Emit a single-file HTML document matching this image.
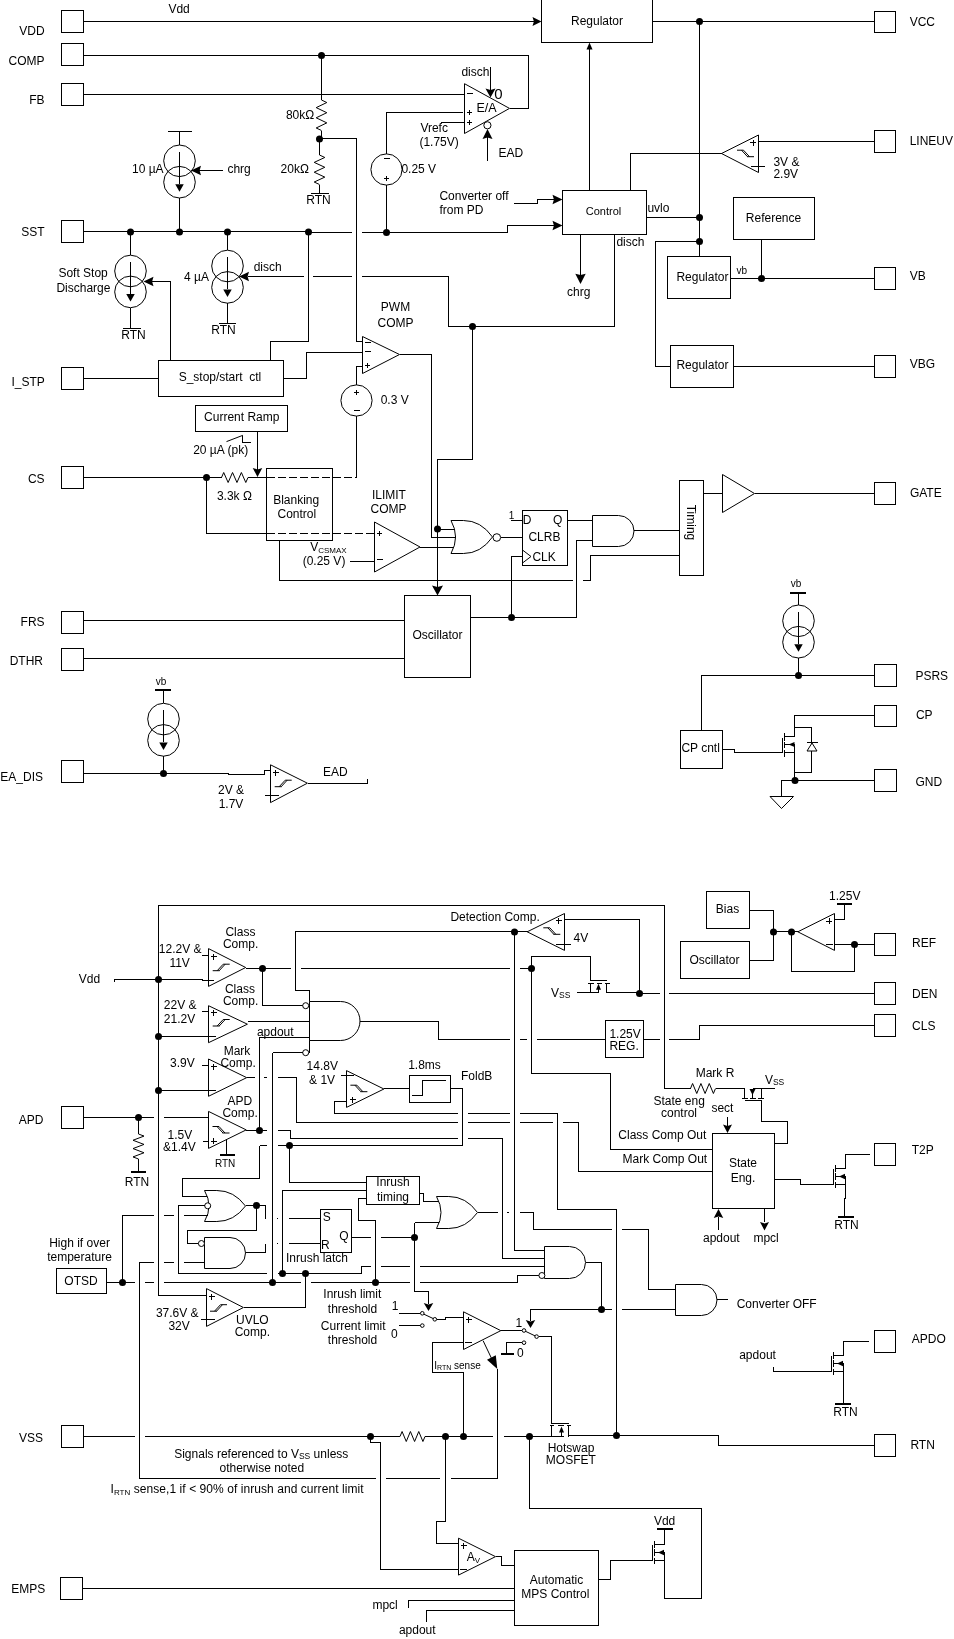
<!DOCTYPE html>
<html><head><meta charset="utf-8"><title>Block diagram</title>
<style>
html,body{margin:0;padding:0;background:#fff}
svg{display:block;will-change:transform}
text{font-family:"Liberation Sans",sans-serif;font-size:12px;fill:#000}
.c{fill:none;stroke:#000;stroke-width:1;shape-rendering:crispEdges}
.a{stroke:#000;stroke-width:1}
polyline.a{fill:none}
</style></head><body>
<svg width="954" height="1639" viewBox="0 0 954 1639">
<rect x="0" y="0" width="954" height="1639" fill="#fff"/>
<rect class="c" x="61.5" y="10.5" width="22.0" height="22.0" fill="none"/>
<rect class="c" x="61.5" y="43.5" width="22.0" height="22.0" fill="none"/>
<rect class="c" x="61.5" y="83.5" width="22.0" height="22.0" fill="none"/>
<rect class="c" x="61.5" y="220.5" width="22.0" height="22.0" fill="none"/>
<rect class="c" x="61.5" y="367.5" width="22.0" height="22.0" fill="none"/>
<rect class="c" x="61.5" y="466.5" width="22.0" height="22.0" fill="none"/>
<rect class="c" x="61.5" y="611.5" width="22.0" height="22.0" fill="none"/>
<rect class="c" x="61.5" y="648.5" width="22.0" height="22.0" fill="none"/>
<rect class="c" x="61.5" y="760.5" width="22.0" height="22.0" fill="none"/>
<rect class="c" x="61.5" y="1106.5" width="22.0" height="22.0" fill="none"/>
<rect class="c" x="61.5" y="1425.5" width="22.0" height="22.0" fill="none"/>
<rect class="c" x="60.5" y="1577.5" width="22.0" height="22.0" fill="none"/>
<rect class="c" x="874.5" y="11.5" width="21.0" height="21.0" fill="none"/>
<rect class="c" x="874.5" y="130.5" width="21.0" height="22.0" fill="none"/>
<rect class="c" x="874.5" y="267.5" width="21.0" height="22.0" fill="none"/>
<rect class="c" x="874.5" y="355.5" width="21.0" height="22.0" fill="none"/>
<rect class="c" x="874.5" y="482.5" width="21.0" height="22.0" fill="none"/>
<rect class="c" x="874.5" y="933.5" width="21.0" height="22.0" fill="none"/>
<rect class="c" x="874.5" y="982.5" width="21.0" height="22.0" fill="none"/>
<rect class="c" x="874.5" y="1014.5" width="21.0" height="22.0" fill="none"/>
<rect class="c" x="874.5" y="1143.5" width="21.0" height="22.0" fill="none"/>
<rect class="c" x="874.5" y="1330.5" width="21.0" height="22.0" fill="none"/>
<rect class="c" x="874.5" y="1434.5" width="21.0" height="22.0" fill="none"/>
<rect class="c" x="874.5" y="664.5" width="22.0" height="22.0" fill="none"/>
<rect class="c" x="874.5" y="705.5" width="22.0" height="21.0" fill="none"/>
<rect class="c" x="874.5" y="769.5" width="22.0" height="22.0" fill="none"/>
<text x="44.6" y="34.9" text-anchor="end">VDD</text>
<text x="44.6" y="64.6" text-anchor="end">COMP</text>
<text x="44.6" y="103.7" text-anchor="end">FB</text>
<text x="44.6" y="235.5" text-anchor="end">SST</text>
<text x="44.8" y="385.6" text-anchor="end">I_STP</text>
<text x="44.6" y="483.2" text-anchor="end">CS</text>
<text x="44.6" y="625.5" text-anchor="end">FRS</text>
<text x="43" y="664.5" text-anchor="end">DTHR</text>
<text x="43" y="780.5" text-anchor="end">EA_DIS</text>
<text x="43.5" y="1124.0" text-anchor="end">APD</text>
<text x="43" y="1441.5" text-anchor="end">VSS</text>
<text x="45.3" y="1593.2" text-anchor="end">EMPS</text>
<text x="909.7" y="26.4">VCC</text>
<text x="909.7" y="144.7">LINEUV</text>
<text x="909.7" y="279.7">VB</text>
<text x="909.7" y="367.8">VBG</text>
<text x="909.9" y="497">GATE</text>
<text x="915.4" y="680">PSRS</text>
<text x="915.9" y="719">CP</text>
<text x="915.4" y="785.5">GND</text>
<text x="912.1" y="947.2">REF</text>
<text x="912.1" y="998.2">DEN</text>
<text x="912.1" y="1030.2">CLS</text>
<text x="911.7" y="1154.3">T2P</text>
<text x="911.8" y="1343.3">APDO</text>
<text x="910.4" y="1449.4">RTN</text>
<polyline class="c" points="83.5,21.5 535,21.5"/>
<polygon points="541.5,21.5 532.5,17.0 533.9,21.5 532.5,26.0" fill="#000" stroke="none"/>
<text x="168.4" y="13">Vdd</text>
<rect class="c" x="541.5" y="-0.5" width="111.0" height="43.0" fill="none"/>
<text x="597" y="25.3" text-anchor="middle">Regulator</text>
<polyline class="c" points="652.5,21.5 874.5,21.5"/>
<circle cx="699.5" cy="21.5" r="3.5" fill="#000"/>
<polyline class="c" points="699.5,21.5 699.5,256.5"/>
<circle cx="699.5" cy="217.5" r="3.5" fill="#000"/>
<circle cx="699.5" cy="241.5" r="3.5" fill="#000"/>
<polyline class="c" points="83.5,55.5 528.5,55.5 528.5,108.5 509.5,108.5"/>
<circle cx="321.5" cy="55.5" r="3.5" fill="#000"/>
<polyline class="c" points="83.5,94.5 464.5,94.5"/>
<polyline class="c" points="321.5,55.5 321.5,100"/>
<polyline class="a" points="321.5,100 326.8,102.54166666666667 316.2,107.625 326.8,112.70833333333333 316.2,117.79166666666666 326.8,122.875 316.2,127.95833333333333 321.5,130.5"/>
<polyline class="c" points="321.5,130.5 321.5,138.5"/>
<circle cx="319.5" cy="139" r="3.5" fill="#000"/>
<polyline class="c" points="319.5,138.5 356.5,138.5 356.5,341.5 362.5,341.5"/>
<polyline class="c" points="319.5,138.5 319.5,155"/>
<polyline class="a" points="319.5,155 324.8,157.45833333333334 314.2,162.375 324.8,167.29166666666666 314.2,172.20833333333334 324.8,177.125 314.2,182.04166666666666 319.5,184.5"/>
<polyline class="c" points="319.5,184.5 319.5,193.5"/>
<polyline class="c" points="311,193.5 329,193.5"/>
<text x="285.9" y="119">80kΩ</text>
<text x="280.6" y="172.9">20kΩ</text>
<text x="306.2" y="204.4">RTN</text>
<polyline class="c" points="168,131.5 192,131.5"/>
<polyline class="c" points="179.5,131.5 179.5,145"/>
<circle class="a" cx="179.5" cy="160.8" r="15.8" fill="none"/>
<circle class="a" cx="179.5" cy="182.2" r="15.8" fill="none"/>
<polyline class="c" points="179.5,151.5 179.5,184.2"/>
<polygon points="179.5,191.79999999999998 175.25,184.2 179.5,184.2 183.75,184.2" fill="#000" stroke="none"/>
<polyline class="c" points="179.5,198 179.5,232.5"/>
<polyline class="c" points="222.5,170.5 199,170.5"/>
<polygon points="191,170.5 201,165.75 199.6,170.5 201,175.25" fill="#000" stroke="none"/>
<text x="132.0" y="173">10 µA</text>
<text x="227.4" y="173">chrg</text>
<polyline class="c" points="83.5,231.5 308.5,231.5"/>
<polyline class="c" points="308.5,232.5 351.5,232.5"/>
<polyline class="c" points="361.5,232.5 507.5,232.5 507.5,225.5 555,225.5"/>
<polygon points="562.5,225.5 552.5,220.75 553.9,225.5 552.5,230.25" fill="#000" stroke="none"/>
<circle cx="130.5" cy="232" r="3.5" fill="#000"/>
<circle cx="179.5" cy="232" r="3.5" fill="#000"/>
<circle cx="227.5" cy="232" r="3.5" fill="#000"/>
<circle cx="308.5" cy="232" r="3.5" fill="#000"/>
<circle cx="386.5" cy="232.5" r="3.5" fill="#000"/>
<polyline class="c" points="130.5,232.5 130.5,255.2"/>
<circle class="a" cx="130.5" cy="271" r="15.8" fill="none"/>
<circle class="a" cx="130.5" cy="291.9" r="15.8" fill="none"/>
<polyline class="c" points="130.5,261.7 130.5,293.9"/>
<polygon points="130.5,301.5 126.25,293.9 130.5,293.9 134.75,293.9" fill="#000" stroke="none"/>
<polyline class="c" points="130.5,307.7 130.5,328.5"/>
<polyline class="c" points="122.5,328.5 141,328.5"/>
<text x="121.2" y="339.4">RTN</text>
<text x="58.4" y="276.5">Soft Stop</text>
<text x="56.4" y="291.6">Discharge</text>
<polyline class="c" points="170.5,360.5 170.5,281.5 152,281.5"/>
<polygon points="143.5,281.5 153.5,276.75 152.1,281.5 153.5,286.25" fill="#000" stroke="none"/>
<polyline class="c" points="227.5,232.5 227.5,250.2"/>
<circle class="a" cx="227.5" cy="266" r="15.8" fill="none"/>
<circle class="a" cx="227.5" cy="287.4" r="15.8" fill="none"/>
<polyline class="c" points="227.5,256.7 227.5,289.4"/>
<polygon points="227.5,297.0 223.25,289.4 227.5,289.4 231.75,289.4" fill="#000" stroke="none"/>
<polyline class="c" points="227.5,303.2 227.5,323.5"/>
<polyline class="c" points="218.5,323.5 235.5,323.5"/>
<text x="211.2" y="334.4">RTN</text>
<text x="184.1" y="281">4 µA</text>
<text x="253.7" y="270.5">disch</text>
<polygon points="239,276.5 249,271.75 247.6,276.5 249,281.25" fill="#000" stroke="none"/>
<polyline class="c" points="248,276.5 303.5,276.5"/>
<polyline class="c" points="313,276.5 351.5,276.5"/>
<polyline class="c" points="361.5,276.5 448.5,276.5 448.5,326.5 614.5,326.5 614.5,234.5"/>
<circle cx="472.5" cy="326.5" r="3.5" fill="#000"/>
<polyline class="c" points="472.5,326.5 472.5,459.5 437.5,459.5 437.5,588"/>
<polygon points="437.5,595.5 432.0,585.5 437.5,586.9 443.0,585.5" fill="#000" stroke="none"/>
<circle cx="437.5" cy="529" r="3.5" fill="#000"/>
<circle class="a" cx="386.5" cy="169.5" r="15.6" fill="none"/>
<polyline class="c" points="386.5,154 386.5,112.5 463,112.5"/>
<polyline class="c" points="386.5,185 386.5,232.5"/>
<polyline class="c" points="383.5,158.5 389.5,158.5"/>
<polyline class="c" points="384.0,178.5 389.0,178.5"/>
<polyline class="c" points="386.5,175.5 386.5,180.5"/>
<text x="401.4" y="173">0.25 V</text>
<polyline class="c" points="440.5,122.5 464.5,122.5"/>
<text x="420.4" y="131.8">Vrefc</text>
<text x="419.4" y="146">(1.75V)</text>
<polygon class="a" points="464.5,83.7 464.5,133.5 509.5,108.4" fill="none"/>
<polyline class="c" points="466.5,93.5 472.5,93.5"/>
<polyline class="c" points="467.0,112.5 472.0,112.5"/>
<polyline class="c" points="469.5,110.0 469.5,115.0"/>
<polyline class="c" points="467.0,122.5 472.0,122.5"/>
<polyline class="c" points="469.5,119.5 469.5,124.5"/>
<text x="461.4" y="75.6">disch</text>
<polyline class="c" points="490.5,66.5 490.5,91"/>
<polygon points="490.5,97.5 485.5,88.5 490.5,89.9 495.5,88.5" fill="#000" stroke="none"/>
<text x="494.2" y="99" style="font-size:15px">0</text>
<text x="476.4" y="111.6" style="font-size:12.5px">E/A</text>
<circle class="a" cx="487.4" cy="125.3" r="3.6" fill="#fff"/>
<polyline class="c" points="487.5,160.5 487.5,136"/>
<polygon points="487.5,129 482.5,139 487.5,137.6 492.5,139" fill="#000" stroke="none"/>
<text x="498.4" y="157">EAD</text>
<text x="439.4" y="199.7">Converter off</text>
<text x="439.4" y="214">from PD</text>
<polyline class="c" points="514,203.5 537.5,203.5 537.5,199.5 555,199.5"/>
<polygon points="562.5,199.5 552.5,194.75 553.9,199.5 552.5,204.25" fill="#000" stroke="none"/>
<rect class="c" x="562.5" y="190.5" width="84.0" height="44.0" fill="none"/>
<text x="603.5" y="215.3" text-anchor="middle" style="font-size:11px">Control</text>
<polyline class="c" points="589.5,190.5 589.5,48"/>
<polygon points="589.5,42.5 586.5,49.5 589.5,49.5 592.5,49.5" fill="#000" stroke="none"/>
<text x="647.4" y="212">uvlo</text>
<polyline class="c" points="646.5,217.5 699.5,217.5"/>
<text x="616.4" y="246">disch</text>
<polyline class="c" points="580.5,234.5 580.5,276"/>
<polygon points="580.5,284 575.3,273.7 580.5,275.09999999999997 585.7,273.7" fill="#000" stroke="none"/>
<text x="567.0" y="296.3">chrg</text>
<polygon class="a" points="758.5,135 758.5,172.5 721.5,153.5" fill="none"/>
<polyline class="c" points="758.5,141.5 874.5,141.5"/>
<polyline class="c" points="721.5,153.5 630.5,153.5 630.5,190.5"/>
<polyline class="c" points="750,142.5 756,142.5"/>
<polyline class="c" points="753.5,139.5 753.5,145.5"/>
<polyline class="c" points="751,166.5 765,166.5"/>
<polyline class="a" points="737,150.2 743.5,150.2"/>
<polyline class="a" points="741.5,150.2 747.5,156.7"/>
<polyline class="a" points="743.5,150.2 749.5,156.7"/>
<polyline class="a" points="747,156.7 754,156.7"/>
<text x="773.4" y="166">3V &amp;</text>
<text x="773.4" y="178">2.9V</text>
<polyline class="c" points="699.5,241.5 655.5,241.5 655.5,366.5 670.5,366.5"/>
<rect class="c" x="667.5" y="256.5" width="63.0" height="42.0" fill="none"/>
<text x="676.4" y="280.8">Regulator</text>
<text x="736.4" y="273.5" style="font-size:10px">vb</text>
<polyline class="c" points="730.5,278.5 874.5,278.5"/>
<circle cx="761.5" cy="278.5" r="3.5" fill="#000"/>
<polyline class="c" points="761.5,239.5 761.5,278.5"/>
<rect class="c" x="733.5" y="197.5" width="81.0" height="42.0" fill="none"/>
<text x="773.5" y="221.5" text-anchor="middle">Reference</text>
<rect class="c" x="670.5" y="345.5" width="63.0" height="42.0" fill="none"/>
<text x="676.4" y="369.3">Regulator</text>
<polyline class="c" points="733.5,366.5 874.5,366.5"/>
<text x="395.5" y="311.3" text-anchor="middle">PWM</text>
<text x="395.5" y="326.8" text-anchor="middle">COMP</text>
<polygon class="a" points="362.5,336.5 362.5,373.5 399.5,354.5" fill="none"/>
<polyline class="c" points="364.5,342.5 370.5,342.5"/>
<polyline class="c" points="364.5,351.5 370.5,351.5"/>
<polyline class="c" points="365.0,365.5 370.0,365.5"/>
<polyline class="c" points="367.5,363.0 367.5,368.0"/>
<polyline class="c" points="399.5,354.5 431.5,354.5 431.5,537.5 457,537.5"/>
<polyline class="c" points="83.5,378.5 158.5,378.5"/>
<rect class="c" x="158.5" y="360.5" width="125.0" height="36.0" fill="none"/>
<text x="178.7" y="381.3" xml:space="preserve" textLength="82.5">S_stop/start  ctl</text>
<polyline class="c" points="270.5,360.5 270.5,341.5 308.5,341.5 308.5,232.5"/>
<polyline class="c" points="283.5,378.5 306.5,378.5 306.5,352.5 362.5,352.5"/>
<circle class="a" cx="356.5" cy="400.5" r="15.6" fill="none"/>
<polyline class="c" points="356.5,385 356.5,366.5 362.5,366.5"/>
<polyline class="c" points="356.5,416 356.5,477.5"/>
<polyline class="c" points="354.0,392.5 359.0,392.5"/>
<polyline class="c" points="356.5,389.5 356.5,394.5"/>
<polyline class="c" points="353.5,410.5 359.5,410.5"/>
<text x="380.7" y="403.8">0.3 V</text>
<rect class="c" x="195.5" y="405.5" width="92.0" height="26.0" fill="none"/>
<text x="204.1" y="420.7">Current Ramp</text>
<polyline class="a" points="226.5,441.6 242.9,435.3"/>
<polyline class="c" points="242.5,435.5 242.5,442.5 250.5,442.5"/>
<text x="193.2" y="454">20 µA (pk)</text>
<polyline class="c" points="257.5,431.5 257.5,470"/>
<polygon points="257.5,477 252.75,468 257.5,469.4 262.25,468" fill="#000" stroke="none"/>
<polyline class="c" points="83.5,477.5 221.5,477.5"/>
<polyline class="a" points="221.5,477.5 223.70833333333334,472.5 228.125,482.5 232.54166666666666,472.5 236.95833333333334,482.5 241.375,472.5 245.79166666666666,482.5 248,477.5"/>
<polyline class="c" points="248,477.5 266.5,477.5"/>
<circle cx="206.5" cy="477.5" r="3.5" fill="#000"/>
<polyline class="c" points="206.5,477.5 206.5,533.5 266.5,533.5"/>
<polyline class="c" points="266.5,477.5 356.5,477.5" stroke-dasharray="8,3"/>
<polyline class="c" points="266.5,533.5 374.5,533.5" stroke-dasharray="8,3"/>
<text x="216.9" y="499.5">3.3k Ω</text>
<rect class="c" x="266.5" y="468.5" width="66.0" height="72.0" fill="none"/>
<text x="273.2" y="503.7">Blanking</text>
<text x="277.5" y="518.3">Control</text>
<polyline class="c" points="279.5,540.5 279.5,580.5 572.5,580.5"/>
<polyline class="c" points="582.5,580.5 590.5,580.5 590.5,555.5 679.5,555.5"/>
<text x="371.9" y="498.7">ILIMIT</text>
<text x="370.6" y="513.3">COMP</text>
<polygon class="a" points="374.5,522 374.5,572 420,547" fill="none"/>
<polyline class="c" points="377.0,533.5 382.0,533.5"/>
<polyline class="c" points="379.5,531.0 379.5,536.0"/>
<polyline class="c" points="376.5,559.5 382.5,559.5"/>
<text x="310.2" y="551">V<tspan font-size="8" dy="2">CSMAX</tspan></text>
<text x="302.7" y="565.3">(0.25 V)</text>
<polyline class="c" points="349.5,561.5 374.5,561.5"/>
<polyline class="c" points="420,547.5 459,547.5"/>
<polyline class="c" points="437.5,529.5 458,529.5"/>
<path class="a" d="M451,520.5 H463.45 Q480.88,520.5 492.5,537.0 Q480.88,553.5 463.45,553.5 H451 Q460.13,537.0 451,520.5 Z" fill="#fff"/>
<circle class="a" cx="496.8" cy="537.5" r="3.8" fill="#fff"/>
<polyline class="c" points="500.5,537.5 522.5,537.5"/>
<rect class="c" x="522.5" y="510.5" width="45.0" height="55.0" fill="none"/>
<text x="508.7" y="518.5" style="font-size:10px">1</text>
<polyline class="c" points="511,520.5 522.5,520.5"/>
<text x="522.7" y="524.3">D</text>
<text x="552.9" y="524.3">Q</text>
<text x="528.4" y="541">CLRB</text>
<text x="532.4" y="561">CLK</text>
<polyline class="a" points="522.5,550 531,556.5 522.5,563"/>
<polyline class="c" points="522.5,556.5 511.5,556.5 511.5,617.5"/>
<circle cx="511.5" cy="617.5" r="3.5" fill="#000"/>
<polyline class="c" points="567.5,520.5 592.5,520.5"/>
<path class="a" d="M592.5,515.5 H618.5 A15.5,15.5 0 0 1 618.5,546.5 H592.5 Z" fill="#fff"/>
<polyline class="c" points="634,530.5 679.5,530.5"/>
<polyline class="c" points="592.5,540.5 576.5,540.5 576.5,617.5 470.5,617.5"/>
<rect class="c" x="404.5" y="595.5" width="66.0" height="82.0" fill="none"/>
<text x="437.5" y="639.3" text-anchor="middle">Oscillator</text>
<polyline class="c" points="83.5,620.5 404.5,620.5"/>
<polyline class="c" points="83.5,658.5 404.5,658.5"/>
<rect class="c" x="679.5" y="480.5" width="24.0" height="95.0" fill="none"/>
<text transform="translate(687.3,522.5) rotate(90)" text-anchor="middle">Timing</text>
<polyline class="c" points="703.5,493.5 722.5,493.5"/>
<polygon class="a" points="722.5,474.5 722.5,512.5 754.5,493.5" fill="none"/>
<polyline class="c" points="754.5,493.5 874.5,493.5"/>
<text x="790.7" y="587" style="font-size:10px">vb</text>
<polyline class="c" points="790,592.5 806,592.5" style="stroke-width:2"/>
<polyline class="c" points="798.5,592.5 798.5,605"/>
<circle class="a" cx="798.5" cy="620.8" r="15.8" fill="none"/>
<circle class="a" cx="798.5" cy="642.2" r="15.8" fill="none"/>
<polyline class="c" points="798.5,611.5 798.5,644.2"/>
<polygon points="798.5,651.8000000000001 794.25,644.2 798.5,644.2 802.75,644.2" fill="#000" stroke="none"/>
<polyline class="c" points="798.5,658 798.5,675.5"/>
<circle cx="798.5" cy="675.5" r="3.5" fill="#000"/>
<polyline class="c" points="701.5,730.5 701.5,675.5 874.5,675.5"/>
<rect class="c" x="680.5" y="730.5" width="42.0" height="38.0" fill="none"/>
<text x="681.4" y="752.4">CP cntl</text>
<polyline class="c" points="722.5,749.5 734.5,749.5 734.5,752.5 782.5,752.5"/>
<polyline class="c" points="782.5,737.5 782.5,752.5"/>
<polyline class="c" points="784.5,733 784.5,740.5"/>
<polyline class="c" points="784.5,742 784.5,748"/>
<polyline class="c" points="784.5,749.5 784.5,756.5"/>
<polyline class="c" points="784.5,736.5 794.5,736.5 794.5,715.5 874.5,715.5"/>
<polyline class="c" points="784.5,744.5 794.5,744.5"/>
<polygon points="788.5,744.5 794.5,742.0 794.5,744.5 794.5,747.0" fill="#000" stroke="none"/>
<polyline class="c" points="784.5,752.5 794.5,752.5"/>
<polyline class="c" points="794.5,744.5 794.5,780.5"/>
<polyline class="c" points="794.5,727.5 811.5,727.5 811.5,772.5 794.5,772.5"/>
<polygon class="a" points="807,751 817,751 812,743" fill="#fff"/>
<polyline class="c" points="807,742.5 817.5,742.5"/>
<circle cx="795" cy="780.5" r="3.5" fill="#000"/>
<polyline class="c" points="781.5,796.5 781.5,780.5 874.5,780.5"/>
<polygon class="a" points="770,796.5 793.5,796.5 781.5,808.5" fill="#fff"/>
<text x="155.8" y="685.2" style="font-size:10px">vb</text>
<polyline class="c" points="155,689.5 171,689.5" style="stroke-width:2"/>
<polyline class="c" points="163.5,689.5 163.5,703"/>
<circle class="a" cx="163.5" cy="719.1" r="15.8" fill="none"/>
<circle class="a" cx="163.5" cy="740.4" r="15.8" fill="none"/>
<polyline class="c" points="163.5,709.8000000000001 163.5,742.4"/>
<polygon points="163.5,750.0 159.25,742.4 163.5,742.4 167.75,742.4" fill="#000" stroke="none"/>
<polyline class="c" points="163.5,756 163.5,773.5"/>
<circle cx="163.5" cy="773.5" r="3.5" fill="#000"/>
<polyline class="c" points="83.5,773.5 228.5,773.5 228.5,774.5 264.5,774.5 264.5,770.5 270.5,770.5"/>
<polygon class="a" points="270.5,764.8 270.5,802.6 307.4,783.2" fill="none"/>
<polyline class="c" points="272.5,772.5 278.5,772.5"/>
<polyline class="c" points="275.5,769.5 275.5,775.5"/>
<polyline class="c" points="264.5,795.5 278.5,795.5"/>
<polyline class="a" points="274.7,786.7 281.7,786.7"/>
<polyline class="a" points="279.2,786.7 285.2,780.2"/>
<polyline class="a" points="281.2,786.7 287.2,780.2"/>
<polyline class="a" points="285.2,780.2 291.7,780.2"/>
<text x="218.0" y="793.8">2V &amp;</text>
<text x="218.7" y="808.4">1.7V</text>
<text x="323.1" y="776.2">EAD</text>
<polyline class="c" points="307.5,783.5 367.5,783.5 367.5,778.5"/>
<polyline class="c" points="158.5,1295.5 158.5,905.5 664.5,905.5 664.5,1088.5 690.5,1088.5"/>
<polyline class="c" points="158.5,1295.5 206.5,1295.5"/>
<circle cx="158.5" cy="979.5" r="3.5" fill="#000"/>
<circle cx="158.5" cy="1036.5" r="3.5" fill="#000"/>
<circle cx="158.5" cy="1090.5" r="3.5" fill="#000"/>
<text x="78.8" y="983.1">Vdd</text>
<polyline class="c" points="114.5,982 114.5,979.5 202,979.5 202,980.5 214,980.5"/>
<polygon class="a" points="208.5,948.6 208.5,986.4 245.7,967.5" fill="none"/>
<polyline class="c" points="202,955.5 208.5,955.5"/>
<polyline class="c" points="210.5,956.5 216.5,956.5"/>
<polyline class="c" points="213.5,953.5 213.5,959.5"/>
<polyline class="a" points="212.7,970.7 219.7,970.7"/>
<polyline class="a" points="217.2,970.7 223.2,964.2"/>
<polyline class="a" points="219.2,970.7 225.2,964.2"/>
<polyline class="a" points="223.2,964.2 229.7,964.2"/>
<text x="225.4" y="936.3">Class</text>
<text x="222.9" y="948.4">Comp.</text>
<text x="158.8" y="952.6">12.2V &amp;</text>
<text x="169.4" y="967.2">11V</text>
<polyline class="c" points="245.5,968.5 290.5,968.5"/>
<circle cx="262.5" cy="968.5" r="3.5" fill="#000"/>
<polyline class="c" points="300.5,968.5 510,968.5"/>
<polyline class="c" points="519.5,968.5 531.5,968.5"/>
<circle cx="531.5" cy="968.5" r="3.5" fill="#000"/>
<polyline class="c" points="262.5,968.5 262.5,1005.5 302.5,1005.5"/>
<polygon class="a" points="208.5,1005.7 208.5,1042.7 247.4,1024.2" fill="none"/>
<polyline class="c" points="202,1011.5 208.5,1011.5"/>
<polyline class="c" points="210.5,1012.5 216.5,1012.5"/>
<polyline class="c" points="213.5,1009.5 213.5,1015.5"/>
<polyline class="a" points="212.7,1026.0 219.7,1026.0"/>
<polyline class="a" points="217.2,1026.0 223.2,1019.5"/>
<polyline class="a" points="219.2,1026.0 225.2,1019.5"/>
<polyline class="a" points="223.2,1019.5 229.7,1019.5"/>
<polyline class="c" points="158.5,1036.5 216,1036.5"/>
<text x="163.8" y="1008.7">22V &amp;</text>
<text x="163.8" y="1023.3">21.2V</text>
<text x="224.9" y="993.1">Class</text>
<text x="222.9" y="1005.0">Comp.</text>
<polyline class="c" points="247.5,1021.5 309.5,1021.5"/>
<text x="256.9" y="1036.4">apdout</text>
<polyline class="c" points="259.5,1130.5 259.5,1037.5 309.5,1037.5"/>
<polygon class="a" points="208.5,1059 208.5,1096.3 246.7,1077.65" fill="none"/>
<polyline class="c" points="202,1065.5 208.5,1065.5"/>
<polyline class="c" points="210.5,1066.5 216.5,1066.5"/>
<polyline class="c" points="213.5,1063.5 213.5,1069.5"/>
<polyline class="c" points="158.5,1090.5 216,1090.5"/>
<text x="170.1" y="1066.6">3.9V</text>
<text x="223.7" y="1055.3">Mark</text>
<text x="220.4" y="1067.4">Comp.</text>
<polyline class="c" points="246.5,1077.5 254.5,1077.5"/>
<polyline class="c" points="264,1077.5 266.5,1077.5"/>
<polyline class="c" points="277.5,1077.5 296.5,1077.5 296.5,1122.5 458,1122.5"/>
<polyline class="c" points="467.5,1122.5 510,1122.5"/>
<polyline class="c" points="519.5,1122.5 553,1122.5"/>
<polyline class="c" points="562.5,1122.5 578.5,1122.5 578.5,1171.5 712.5,1171.5"/>
<polyline class="c" points="295.5,990.5 295.5,931.5 527.5,931.5"/>
<circle cx="514.5" cy="932" r="3.5" fill="#000"/>
<polyline class="c" points="295.5,990.5 309.5,990.5 309.5,1053"/>
<path class="a" d="M309.5,1001.5 H340.5 A19.5,19.5 0 0 1 340.5,1040.5 H309.5 Z" fill="#fff"/>
<circle class="a" cx="305.7" cy="1005.7" r="3" fill="#fff"/>
<circle class="a" cx="305.7" cy="1052.7" r="3" fill="#fff"/>
<polyline class="c" points="272.5,1052.5 302.5,1052.5"/>
<polyline class="c" points="272.5,1052.5 272.5,1282.5"/>
<circle cx="272.5" cy="1282.5" r="3.5" fill="#000"/>
<polyline class="c" points="360,1021.5 438.5,1021.5 438.5,1039.5 510,1039.5"/>
<polyline class="c" points="519.5,1039.5 527,1039.5"/>
<polyline class="c" points="537,1039.5 605.5,1039.5"/>
<rect class="c" x="605.5" y="1020.5" width="38.0" height="37.0" fill="none"/>
<text x="609.4" y="1037.7">1.25V</text>
<text x="609.4" y="1049.5">REG.</text>
<polyline class="c" points="643.5,1039.5 659.5,1039.5"/>
<polyline class="c" points="669,1039.5 699.5,1039.5 699.5,1025.5 874.5,1025.5"/>
<polyline class="c" points="514.5,932 514.5,1250.5 544.5,1250.5"/>
<text x="450.4" y="920.7">Detection Comp.</text>
<polygon class="a" points="564.5,913.5 564.5,950.4 527.2,931.8" fill="none"/>
<polyline class="c" points="555.5,920.5 561.5,920.5"/>
<polyline class="c" points="558.5,917.5 558.5,923.5"/>
<polyline class="c" points="556,944.5 570.5,944.5"/>
<polyline class="a" points="543.3,927.8 549.8,927.8"/>
<polyline class="a" points="547.8,927.8 553.8,934.3"/>
<polyline class="a" points="549.8,927.8 555.8,934.3"/>
<polyline class="a" points="553.3,934.3 560.3,934.3"/>
<text x="573.6" y="942.1">4V</text>
<polyline class="c" points="564.5,919.5 639.5,919.5 639.5,993.5"/>
<circle cx="639.5" cy="993.5" r="3.5" fill="#000"/>
<polyline class="c" points="531.5,968.5 531.5,956.5 590.5,956.5 590.5,980.5"/>
<polyline class="c" points="531.5,968.5 531.5,1073.5 610.5,1073.5 610.5,1149.5 712.5,1149.5"/>
<polyline class="c" points="590.5,980.5 606.5,980.5"/>
<polyline class="c" points="588,983.5 594,983.5"/>
<polyline class="c" points="596.5,983.5 602,983.5"/>
<polyline class="c" points="604.5,983.5 610,983.5"/>
<polyline class="c" points="590.5,983.5 590.5,992.5"/>
<polyline class="c" points="606.5,983.5 606.5,992.5"/>
<polyline class="c" points="598.5,985 598.5,992.5"/>
<polygon points="598.5,983.8 596.0,989.8 598.5,989.8 601.0,989.8" fill="#000" stroke="none"/>
<polyline class="c" points="576.5,992.5 599,992.5"/>
<polyline class="c" points="606.5,992.5 639.5,992.5"/>
<text x="551.0" y="996.7">V<tspan font-size="8.5" dy="1.5">SS</tspan></text>
<polyline class="c" points="639.5,993.5 659.5,993.5"/>
<polyline class="c" points="669,993.5 874.5,993.5"/>
<rect class="c" x="706.5" y="891.5" width="43.0" height="37.0" fill="none"/>
<text x="715.8" y="913.2">Bias</text>
<rect class="c" x="680.5" y="941.5" width="69.0" height="37.0" fill="none"/>
<text x="689.4" y="963.5">Oscillator</text>
<polyline class="c" points="749.5,910.5 773.5,910.5 773.5,960.5 749.5,960.5"/>
<circle cx="773.5" cy="932" r="3.5" fill="#000"/>
<circle cx="791.5" cy="932" r="3.5" fill="#000"/>
<polyline class="c" points="773.5,931.5 797.8,931.5"/>
<polygon class="a" points="834.5,913.5 834.5,950.4 797.8,931.8" fill="none"/>
<polyline class="c" points="826,921.5 832,921.5"/>
<polyline class="c" points="829.5,918 829.5,924"/>
<polyline class="c" points="826.0,944.5 833.0,944.5"/>
<polyline class="c" points="834.5,919.5 844.5,919.5 844.5,903.5"/>
<polyline class="c" points="836.5,903.5 851.5,903.5" style="stroke-width:2"/>
<text x="829.1" y="900.1">1.25V</text>
<polyline class="c" points="834.5,944.5 874.5,944.5"/>
<circle cx="854.5" cy="944.5" r="3.5" fill="#000"/>
<polyline class="c" points="854.5,944.5 854.5,971.5 791.5,971.5 791.5,932"/>
<text x="306.6" y="1069.6">14.8V</text>
<text x="309.1" y="1084.2">&amp; 1V</text>
<polygon class="a" points="346.5,1070.6 346.5,1107.4 383.9,1089.0" fill="none"/>
<polyline class="c" points="341,1075.5 354,1075.5"/>
<polyline class="c" points="349.5,1099.5 355.5,1099.5"/>
<polyline class="c" points="352.5,1096.5 352.5,1102.5"/>
<polyline class="a" points="350.4,1085.2 356.9,1085.2"/>
<polyline class="a" points="354.9,1085.2 360.9,1091.7"/>
<polyline class="a" points="356.9,1085.2 362.9,1091.7"/>
<polyline class="a" points="360.4,1091.7 367.4,1091.7"/>
<polyline class="c" points="346.5,1101.5 334.5,1101.5 334.5,1113.5 458,1113.5"/>
<polyline class="c" points="467.5,1113.5 510,1113.5"/>
<polyline class="c" points="519.5,1113.5 557.5,1113.5 557.5,1209.5 616.5,1209.5 616.5,1435"/>
<polyline class="c" points="384,1088.5 409.5,1088.5"/>
<rect class="c" x="409.5" y="1075.5" width="41.0" height="27.0" fill="none"/>
<polyline class="c" points="412,1095.5 422.5,1095.5 422.5,1080.5 446,1080.5"/>
<text x="408.2" y="1068.6">1.8ms</text>
<text x="461.0" y="1079.7">FoldB</text>
<polyline class="c" points="450.5,1088.5 462.5,1088.5 462.5,1145.5 289.5,1145.5"/>
<polyline class="c" points="83.5,1117.5 153.5,1117.5"/>
<polyline class="c" points="163.5,1117.5 208.5,1117.5"/>
<circle cx="138.5" cy="1117.5" r="3.5" fill="#000"/>
<polyline class="c" points="138.5,1117.5 138.5,1134"/>
<polyline class="a" points="138.5,1134 144.0,1136.0833333333333 133.0,1140.25 144.0,1144.4166666666667 133.0,1148.5833333333333 144.0,1152.75 133.0,1156.9166666666667 138.5,1159"/>
<polyline class="c" points="138.5,1159 138.5,1171.5"/>
<polyline class="c" points="130.5,1171.5 146,1171.5" style="stroke-width:2"/>
<text x="124.8" y="1185.9">RTN</text>
<polygon class="a" points="208.5,1111.4 208.5,1148.4 246.2,1129.9" fill="none"/>
<polyline class="a" points="212.5,1126.5 219.0,1126.5"/>
<polyline class="a" points="217.0,1126.5 223.0,1133.0"/>
<polyline class="a" points="219.0,1126.5 225.0,1133.0"/>
<polyline class="a" points="222.5,1133.0 229.5,1133.0"/>
<polyline class="c" points="210.5,1141.5 216.5,1141.5"/>
<polyline class="c" points="213.5,1138 213.5,1144"/>
<polyline class="c" points="202.5,1141.5 208.5,1141.5"/>
<text x="227.4" y="1105.1">APD</text>
<text x="222.4" y="1116.9">Comp.</text>
<text x="167.6" y="1138.9">1.5V</text>
<text x="163.0" y="1151.4">&amp;1.4V</text>
<polyline class="c" points="226.5,1139 226.5,1154.5"/>
<polyline class="c" points="219.5,1154.5 234.5,1154.5" style="stroke-width:2"/>
<text x="214.9" y="1166.8" style="font-size:10px">RTN</text>
<polyline class="c" points="246,1130.5 266.5,1130.5"/>
<circle cx="259.5" cy="1130.5" r="3.5" fill="#000"/>
<polyline class="c" points="277.5,1130.5 290.5,1130.5 290.5,1138.5 458,1138.5"/>
<polyline class="c" points="467.5,1138.5 502.5,1138.5 502.5,1258.5 544.5,1258.5"/>
<polyline class="c" points="259.5,1145.5 266.5,1145.5"/>
<polyline class="c" points="277.5,1145.5 289.5,1145.5"/>
<circle cx="289.5" cy="1145.5" r="3.5" fill="#000"/>
<polyline class="c" points="259.5,1145.5 259.5,1178.5 182.5,1178.5 182.5,1196.5 208,1196.5"/>
<polyline class="c" points="289.5,1145.5 289.5,1182.5 366.5,1182.5"/>
<rect class="c" x="366.5" y="1176.5" width="53.0" height="28.0" fill="none"/>
<text x="393" y="1186.3" text-anchor="middle">Inrush</text>
<text x="393" y="1200.9" text-anchor="middle">timing</text>
<polyline class="c" points="282.5,1273.5 282.5,1190.5 366.5,1190.5"/>
<polyline class="c" points="366.5,1198.5 358.5,1198.5 358.5,1220.5 375.5,1220.5 375.5,1282.5"/>
<circle cx="375.5" cy="1282.5" r="3.5" fill="#000"/>
<polyline class="c" points="419.5,1193.5 423.5,1193.5 423.5,1201.5 439,1201.5"/>
<polyline class="c" points="414.5,1222.5 440,1222.5"/>
<path class="a" d="M436.5,1196.5 H448.8 Q466.02,1196.5 477.5,1212.5 Q466.02,1228.5 448.8,1228.5 H436.5 Q445.52,1212.5 436.5,1196.5 Z" fill="#fff"/>
<polyline class="c" points="477.5,1212.5 497.5,1212.5"/>
<polyline class="c" points="507,1212.5 509,1212.5"/>
<polyline class="c" points="519.5,1212.5 533.5,1212.5 533.5,1229.5 611.5,1229.5"/>
<polyline class="c" points="622,1229.5 648.5,1229.5 648.5,1289.5 675.5,1289.5"/>
<rect class="c" x="320.5" y="1209.5" width="31.0" height="43.0" fill="none"/>
<text x="322.7" y="1220.9">S</text>
<text x="320.9" y="1248.7">R</text>
<text x="339.3" y="1240.0">Q</text>
<text x="286.0" y="1261.5">Inrush latch</text>
<polyline class="c" points="288.5,1218.5 320.5,1218.5"/>
<polyline class="c" points="288.5,1243.5 320.5,1243.5"/>
<polyline class="c" points="277,1218.5 278,1218.5"/>
<polyline class="c" points="277,1243.5 278,1243.5"/>
<polyline class="c" points="351.5,1237.5 370.5,1237.5"/>
<polyline class="c" points="380.5,1237.5 414.5,1237.5"/>
<circle cx="414.5" cy="1237.5" r="3.5" fill="#000"/>
<polyline class="c" points="414.5,1222.5 414.5,1291.5 428.5,1291.5 428.5,1304"/>
<polygon points="428.5,1311 423.75,1303 428.5,1304.4 433.25,1303" fill="#000" stroke="none"/>
<path class="a" d="M204.5,1190.5 H216.8 Q234.02,1190.5 245.5,1206.0 Q234.02,1221.5 216.8,1221.5 H204.5 Q213.52,1206.0 204.5,1190.5 Z" fill="#fff"/>
<circle class="a" cx="207.7" cy="1205.8" r="3" fill="#fff"/>
<polyline class="c" points="204.5,1205.5 178.5,1205.5 178.5,1273.5 266.5,1273.5"/>
<polyline class="c" points="122.5,1282.5 122.5,1215.5 153.5,1215.5"/>
<polyline class="c" points="163.5,1215.5 173.5,1215.5"/>
<polyline class="c" points="183.5,1215.5 207.5,1215.5"/>
<polyline class="c" points="245.5,1205.5 265.5,1205.5 265.5,1218.5"/>
<circle cx="256.5" cy="1205.5" r="3.5" fill="#000"/>
<polyline class="c" points="256.5,1205.5 256.5,1230.5 187.5,1230.5 187.5,1243.5 198.5,1243.5"/>
<path class="a" d="M204.5,1237.5 H230.0 A15.5,15.5 0 0 1 230.0,1268.5 H204.5 Z" fill="#fff"/>
<circle class="a" cx="201.4" cy="1243.5" r="3" fill="#fff"/>
<polyline class="c" points="245.5,1252.5 265.5,1252.5 265.5,1243.5"/>
<polyline class="c" points="139.5,1478.5 139.5,1262.5 153.5,1262.5"/>
<polyline class="c" points="163.5,1262.5 173.5,1262.5"/>
<polyline class="c" points="183.5,1262.5 204.5,1262.5"/>
<polyline class="c" points="277.5,1273.5 361.5,1273.5 361.5,1266.5 370.5,1266.5"/>
<polyline class="c" points="380.5,1266.5 409.5,1266.5"/>
<polyline class="c" points="419.5,1266.5 544.5,1266.5"/>
<circle cx="282.5" cy="1273.5" r="3.5" fill="#000"/>
<circle cx="305.5" cy="1273.5" r="3.5" fill="#000"/>
<text x="49.2" y="1246.9">High if over</text>
<text x="47.2" y="1261.2">temperature</text>
<rect class="c" x="56.5" y="1268.5" width="50.0" height="25.0" fill="none"/>
<text x="64.3" y="1285.1">OTSD</text>
<polyline class="c" points="106.5,1282.5 134.5,1282.5"/>
<polyline class="c" points="144.5,1282.5 153.5,1282.5"/>
<polyline class="c" points="163.5,1282.5 300.5,1282.5"/>
<circle cx="122.5" cy="1282.5" r="3.5" fill="#000"/>
<polyline class="c" points="310.5,1282.5 409.5,1282.5"/>
<polyline class="c" points="419.5,1282.5 517.5,1282.5 517.5,1275.5 538.5,1275.5"/>
<polygon class="a" points="206.5,1288.6 206.5,1326.4 243.4,1307.5" fill="none"/>
<polyline class="c" points="208.5,1296.5 214.5,1296.5"/>
<polyline class="c" points="211.5,1293.5 211.5,1299.5"/>
<polyline class="c" points="200.5,1319.5 215,1319.5"/>
<polyline class="a" points="210,1311.2 217,1311.2"/>
<polyline class="a" points="214.5,1311.2 220.5,1304.7"/>
<polyline class="a" points="216.5,1311.2 222.5,1304.7"/>
<polyline class="a" points="220.5,1304.7 227,1304.7"/>
<text x="155.9" y="1317.3">37.6V &amp;</text>
<text x="168.4" y="1329.9">32V</text>
<text x="236.0" y="1323.6">UVLO</text>
<text x="234.7" y="1335.7">Comp.</text>
<polyline class="c" points="243.5,1307.5 305.5,1307.5 305.5,1273.5"/>
<path class="a" d="M544.5,1246.5 H569.5 A16.0,16.0 0 0 1 569.5,1278.5 H544.5 Z" fill="#fff"/>
<circle class="a" cx="541.9" cy="1275.5" r="3" fill="#fff"/>
<polyline class="c" points="585.5,1262.5 601.5,1262.5 601.5,1309.5"/>
<circle cx="601.5" cy="1309.5" r="3.5" fill="#000"/>
<polyline class="c" points="530.5,1321 530.5,1309.5 611.5,1309.5"/>
<polyline class="c" points="622,1309.5 675.5,1309.5"/>
<polygon points="530.5,1328 525.75,1320 530.5,1321.4 535.25,1320" fill="#000" stroke="none"/>
<path class="a" d="M675.5,1284.5 H701.5 A15.5,15.5 0 0 1 701.5,1315.5 H675.5 Z" fill="#fff"/>
<polyline class="c" points="717,1299.5 728,1299.5"/>
<text x="736.7" y="1308.4">Converter OFF</text>
<text x="323.3" y="1298.4">Inrush limit</text>
<text x="327.8" y="1313.0">threshold</text>
<text x="320.8" y="1329.9">Current limit</text>
<text x="327.8" y="1344.2">threshold</text>
<text x="391.7" y="1309.5">1</text>
<text x="390.9" y="1337.5">0</text>
<polyline class="c" points="399,1313.5 420.5,1313.5"/>
<polyline class="c" points="399,1325.5 420.5,1325.5"/>
<circle class="a" cx="422.3" cy="1313.3" r="1.8" fill="#fff"/>
<circle class="a" cx="422.3" cy="1325.6" r="1.8" fill="#fff"/>
<circle class="a" cx="434.8" cy="1319.3" r="1.8" fill="#fff"/>
<polyline class="a" points="423.5,1314 433.5,1318.7"/>
<polyline class="c" points="436.5,1319.5 445.5,1319.5 445.5,1317.5 463.5,1317.5"/>
<polygon class="a" points="463.5,1311.8 463.5,1349.5 500.8,1330.65" fill="none"/>
<polyline class="c" points="465.5,1319.5 471.5,1319.5"/>
<polyline class="c" points="468.5,1316.5 468.5,1322.5"/>
<polyline class="c" points="465.0,1342.5 472.0,1342.5"/>
<polyline class="c" points="463.5,1342.5 432.5,1342.5 432.5,1372.5 463.5,1372.5 463.5,1436.5"/>
<text x="434.2" y="1368.9" style="font-size:10px">I<tspan font-size="7" dy="1.5">RTN</tspan><tspan dy="-1.5"> sense</tspan></text>
<polyline class="a" points="483.1,1340.7 493,1361.5"/>
<polygon points="497.3,1369 487,1359.8 495.8,1355.3" fill="#000" stroke="none"/>
<polyline class="c" points="497.5,1369 497.5,1478.5"/>
<polyline class="c" points="500.5,1330.5 522,1330.5"/>
<circle class="a" cx="524" cy="1330.5" r="1.8" fill="#fff"/>
<circle class="a" cx="524" cy="1342.7" r="1.8" fill="#fff"/>
<circle class="a" cx="536.6" cy="1336.6" r="1.8" fill="#fff"/>
<polyline class="a" points="525.3,1331.2 535.3,1336"/>
<polyline class="c" points="538.5,1336.5 551.5,1336.5 551.5,1423.5 568.5,1423.5"/>
<text x="515.4" y="1327.0">1</text>
<text x="517.0" y="1357.1">0</text>
<polyline class="c" points="522,1342.5 506.5,1342.5 506.5,1354"/>
<polyline class="c" points="500.5,1354 514,1354" style="stroke-width:2"/>
<polyline class="c" points="83.5,1436.5 134.5,1436.5"/>
<polyline class="c" points="144.5,1436.5 400,1436.5"/>
<polyline class="a" points="400,1436.5 402.0833333333333,1431.5 406.25,1441.5 410.4166666666667,1431.5 414.5833333333333,1441.5 418.75,1431.5 422.9166666666667,1441.5 425,1436.5"/>
<polyline class="c" points="425,1436.5 492.5,1436.5"/>
<polyline class="c" points="503.5,1436.5 563.5,1436.5"/>
<polyline class="c" points="568.5,1435.5 718.5,1435.5 718.5,1445.5 874.5,1445.5"/>
<circle cx="370.5" cy="1436.5" r="3.5" fill="#000"/>
<circle cx="445.5" cy="1436.5" r="3.5" fill="#000"/>
<circle cx="463.5" cy="1436.5" r="3.5" fill="#000"/>
<circle cx="529.5" cy="1436.5" r="3.5" fill="#000"/>
<circle cx="616.5" cy="1435.5" r="3.5" fill="#000"/>
<polyline class="c" points="549.5,1425.5 554,1425.5"/>
<polyline class="c" points="557.5,1425.5 563.5,1425.5"/>
<polyline class="c" points="566.5,1425.5 571,1425.5"/>
<polyline class="c" points="551.5,1425.5 551.5,1436.5"/>
<polyline class="c" points="568.5,1425.5 568.5,1436.5"/>
<polyline class="c" points="561.5,1428 561.5,1436.5"/>
<polygon points="561.5,1426.5 559.0,1432.5 561.5,1432.5 564.0,1432.5" fill="#000" stroke="none"/>
<text x="547.7" y="1452.2">Hotswap</text>
<text x="545.8" y="1463.9">MOSFET</text>
<text x="174.2" y="1457.9">Signals referenced to V<tspan font-size="8.5" dy="1.5">SS</tspan><tspan dy="-1.5"> unless</tspan></text>
<text x="219.5" y="1471.8">otherwise noted</text>
<text x="110.5" y="1492.7" textLength="253">I<tspan font-size="8" dy="2">RTN</tspan><tspan dy="-2"> sense,1 if &lt; 90% of inrush and current limit</tspan></text>
<polyline class="c" points="139.5,1478.5 375.5,1478.5"/>
<polyline class="c" points="385.5,1478.5 440,1478.5"/>
<polyline class="c" points="450.5,1478.5 497.5,1478.5"/>
<polyline class="c" points="370.5,1436.5 370.5,1442.5 380.5,1442.5 380.5,1569.5 458.5,1569.5"/>
<polyline class="c" points="445.5,1436.5 445.5,1521.5 436.5,1521.5 436.5,1543.5 458.5,1543.5"/>
<polygon class="a" points="458.5,1538.2 458.5,1575.1 495.5,1556.65" fill="none"/>
<polyline class="c" points="460.5,1545.5 466.5,1545.5"/>
<polyline class="c" points="463.5,1542.5 463.5,1548.5"/>
<polyline class="c" points="460.0,1569.5 467.0,1569.5"/>
<text x="466.8" y="1561.0">A<tspan font-size="8" dy="2">V</tspan></text>
<polyline class="c" points="495.5,1556.5 501.5,1556.5 501.5,1565.5 514.5,1565.5"/>
<rect class="c" x="514.5" y="1550.5" width="84.0" height="75.0" fill="none"/>
<text x="556.5" y="1584.0" text-anchor="middle">Automatic</text>
<text x="521.3" y="1598.3">MPS Control</text>
<polyline class="c" points="82.5,1588.5 514.5,1588.5"/>
<text x="372.4" y="1609.2">mpcl</text>
<polyline class="c" points="408.5,1607.5 408.5,1600.5 514.5,1600.5"/>
<text x="398.9" y="1633.5">apdout</text>
<polyline class="c" points="426.5,1621.5 426.5,1610.5 514.5,1610.5"/>
<polyline class="c" points="598.5,1579.5 610.5,1579.5 610.5,1560.5 652.5,1560.5"/>
<polyline class="c" points="529.5,1436.5 529.5,1508.5 701.5,1508.5 701.5,1598.5 664.5,1598.5 664.5,1552.5"/>
<text x="653.9" y="1525.0">Vdd</text>
<polyline class="c" points="657,1528.5 672.5,1528.5" style="stroke-width:2"/>
<polyline class="c" points="664.5,1528.5 664.5,1544.5"/>
<polyline class="c" points="652.5,1544.5 652.5,1560.5"/>
<polyline class="c" points="654.5,1541.0 654.5,1547.5"/>
<polyline class="c" points="654.5,1549.2 654.5,1555.8"/>
<polyline class="c" points="654.5,1557.5 654.5,1564.0"/>
<polyline class="c" points="654.5,1544.5 664.5,1544.5"/>
<polyline class="c" points="654.5,1552.5 664.5,1552.5"/>
<polyline class="c" points="654.5,1560.5 664.5,1560.5"/>
<polyline class="c" points="664.5,1552.5 664.5,1560.5"/>
<polygon points="658.0,1552.5 664.0,1549.75 664.0,1552.5 664.0,1555.25" fill="#000" stroke="none"/>
<polyline class="a" points="690.5,1088.5 692.5833333333334,1083.5 696.75,1093.5 700.9166666666666,1083.5 705.0833333333334,1093.5 709.25,1083.5 713.4166666666666,1093.5 715.5,1088.5"/>
<polyline class="c" points="715.5,1088.5 744.5,1088.5"/>
<text x="695.7" y="1077.3">Mark R</text>
<polyline class="c" points="744.5,1088.5 744.5,1098.5"/>
<polyline class="c" points="761.5,1088.5 761.5,1098.5"/>
<polyline class="c" points="752.5,1088.5 774.5,1088.5"/>
<polyline class="c" points="752.5,1092 752.5,1098.5"/>
<polygon points="752.5,1095 749.5,1089 752.5,1089 755.5,1089" fill="#000" stroke="none"/>
<polyline class="c" points="742,1098.5 748,1098.5"/>
<polyline class="c" points="750,1098.5 756,1098.5"/>
<polyline class="c" points="758,1098.5 764,1098.5"/>
<polyline class="c" points="744.5,1100.5 761.5,1100.5 761.5,1121.5 787.5,1121.5 787.5,1143.5 774.5,1143.5"/>
<text x="764.9" y="1083.5">V<tspan font-size="8.5" dy="1.5">SS</tspan></text>
<text x="653.5" y="1104.6">State eng</text>
<text x="661.0" y="1116.7">control</text>
<text x="711.4" y="1111.6">sect</text>
<polyline class="c" points="727.5,1116.5 727.5,1126"/>
<polygon points="727.5,1133 723.0,1124.5 727.5,1125.9 732.0,1124.5" fill="#000" stroke="none"/>
<rect class="c" x="712.5" y="1133.5" width="62.0" height="75.0" fill="none"/>
<text x="743" y="1166.7" text-anchor="middle">State</text>
<text x="743" y="1181.8" text-anchor="middle">Eng.</text>
<text x="618.3" y="1139.1">Class Comp Out</text>
<text x="622.5" y="1163.0">Mark Comp Out</text>
<polyline class="c" points="774.5,1179.5 800.5,1179.5 800.5,1184.5 833.5,1184.5"/>
<polyline class="c" points="718.5,1229.5 718.5,1217"/>
<polygon points="718.5,1209 713.75,1218 718.5,1216.6 723.25,1218" fill="#000" stroke="none"/>
<text x="703.0" y="1241.7">apdout</text>
<polyline class="c" points="764.5,1208.5 764.5,1222"/>
<polygon points="764.5,1230.5 760.0,1222.0 764.5,1223.4 769.0,1222.0" fill="#000" stroke="none"/>
<text x="753.4" y="1241.7">mpcl</text>
<polyline class="c" points="833.5,1168.5 833.5,1184.5"/>
<polyline class="c" points="835.5,1165.0 835.5,1171.5"/>
<polyline class="c" points="835.5,1173.2 835.5,1179.8"/>
<polyline class="c" points="835.5,1181.5 835.5,1188.0"/>
<polyline class="c" points="835.5,1168.5 845.5,1168.5"/>
<polyline class="c" points="835.5,1176.5 845.5,1176.5"/>
<polyline class="c" points="835.5,1184.5 845.5,1184.5"/>
<polyline class="c" points="845.5,1176.5 845.5,1184.5"/>
<polygon points="839.0,1176.5 845.0,1173.75 845.0,1176.5 845.0,1179.25" fill="#000" stroke="none"/>
<polyline class="c" points="845.5,1168.5 845.5,1154.5 869.5,1154.5"/>
<polyline class="c" points="845.5,1184.5 845.5,1198 844.5,1198 844.5,1217"/>
<polyline class="c" points="838,1217 853.5,1217" style="stroke-width:2"/>
<text x="834.2" y="1229.2">RTN</text>
<polyline class="c" points="831.5,1355.5 831.5,1371.5"/>
<polyline class="c" points="833.5,1352.0 833.5,1358.5"/>
<polyline class="c" points="833.5,1360.2 833.5,1366.8"/>
<polyline class="c" points="833.5,1368.5 833.5,1375.0"/>
<polyline class="c" points="833.5,1355.5 843.5,1355.5"/>
<polyline class="c" points="833.5,1363.5 843.5,1363.5"/>
<polyline class="c" points="833.5,1371.5 843.5,1371.5"/>
<polyline class="c" points="843.5,1363.5 843.5,1371.5"/>
<polygon points="837.0,1363.5 843.0,1360.75 843.0,1363.5 843.0,1366.25" fill="#000" stroke="none"/>
<polyline class="c" points="843.5,1355.5 843.5,1341.5 869,1341.5"/>
<polyline class="c" points="843.5,1371.5 843.5,1403.5"/>
<polyline class="c" points="835,1403.5 850.5,1403.5" style="stroke-width:2"/>
<text x="833.2" y="1415.5">RTN</text>
<text x="739.2" y="1358.8">apdout</text>
<polyline class="c" points="773.5,1366.5 773.5,1371.5 831.5,1371.5"/>
</svg>
</body></html>
